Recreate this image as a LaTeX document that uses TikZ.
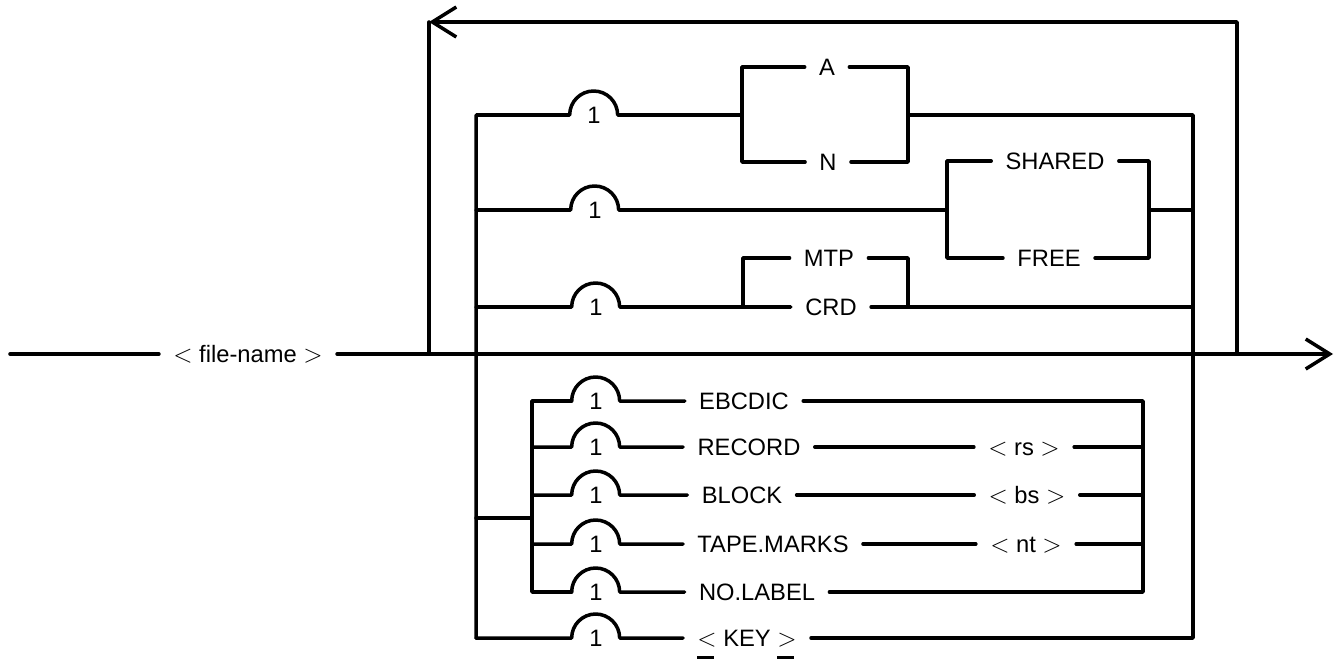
\documentclass[tikz,border=0pt]{standalone}
\usepackage{fontspec}
\setmainfont{Liberation Sans}
\usetikzlibrary{arrows.meta}

\newcommand{\barred}[1]{\rlap{\raisebox{-7pt}{\rule{0.7em}{1.4pt}}}#1}
\newcommand{\lt}{\(<\)}
\newcommand{\gt}{\(>\)}

\begin{document}
\begin{tikzpicture}[x=0.02cm, y=-0.02cm,
  rail/.style={line width=2pt, line cap=round, line join=round},
  arr/.style={-{Straight Barb[length=0.48cm, width=0.6cm]}},
  word/.style={font=\fontsize{13.5}{15}\selectfont, inner xsep=8pt, inner ysep=0pt, text height=9.6pt, text depth=0pt},
  once/.style={font=\fontsize{13.5}{15}\selectfont, inner sep=0pt, minimum width=0.96cm, text height=9.6pt, text depth=0pt}
]
\useasboundingbox (0,0) rectangle (1344,659);

% main line
\coordinate (start) at (10,354);
\coordinate (finish) at (1333,354);
\node[word] (fname) at (248,354) {\lt{} file-name \gt};
\draw[rail] (start) -- (fname);
\draw[rail, arr] (fname) -- (finish);

% repeat loop
\coordinate (loopL) at (429,354);
\coordinate (loopTop) at (429,22);
\coordinate (loopR) at (1237,354);
\draw[rail, arr] (loopR) |- (loopTop);
\draw[rail] (loopTop) -- (loopL);

% option box
\coordinate (boxTL) at (476,115);
\coordinate (boxBL) at (476,638);
\coordinate (boxTR) at (1193,115);
\coordinate (boxBR) at (1193,638);

% A / N
\node[once] (one1) at (594,115) {1};
\node[word] (optA) at (827,67) {A};
\node[word] (optN) at (828,162) {N};
\coordinate (an1) at (742,115);
\coordinate (an2) at (908,115);
\draw[rail] (boxBL) -- (boxTL) -- (one1.west) arc[start angle=180, end angle=0, radius=0.48cm] -- (an1);
\draw[rail] (optA.west) -| (optN.west -| an1) -- (optN.west);
\draw[rail] (optA.east) -| (optN.east -| an2) -- (optN.east);

% SHARED / FREE
\node[once] (one2) at (595,210) {1};
\node[word] (optShared) at (1055,161) {SHARED};
\node[word] (optFree) at (1049,258) {FREE};
\coordinate (sf1) at (947,210);
\coordinate (sf2) at (1149,210);
\draw[rail] (boxTL |- one2) -- (one2.west) arc[start angle=180, end angle=0, radius=0.48cm] -- (sf1);
\draw[rail] (optShared.west) -| (optFree.west -| sf1) -- (optFree.west);
\draw[rail] (optShared.east) -| (optFree.east -| sf2) -- (optFree.east);
\draw[rail] (sf2) -- (sf2 -| boxTR);

% MTP / CRD
\node[once] (one3) at (596,307) {1};
\node[word] (optMtp) at (829,258) {MTP};
\node[word] (optCrd) at (831,307) {CRD};
\coordinate (mc1) at (743,307);
\coordinate (mc2) at (908,307);
\draw[rail] (boxTL |- one3) -- (one3.west) arc[start angle=180, end angle=0, radius=0.48cm] -- (optCrd.west);
\draw[rail] (optMtp.west) -| (mc1);
\draw[rail] (optMtp.east) -| (mc2);
\draw[rail] (optCrd.east) -- (optCrd.east -| boxTR);

% tape options
\coordinate (subJ) at (532,518);
\coordinate (subR) at (1143,518);
\node[once] (one4) at (596,401) {1};
\node[once] (one5) at (596,447) {1};
\node[once] (one6) at (596,495) {1};
\node[once] (one7) at (596,544) {1};
\node[once] (one8) at (596,592) {1};
\node[word] (optEbcdic) at (744,401) {EBCDIC};
\node[word] (optRecord) at (749,447) {RECORD};
\node[word] (argRs) at (1024,447) {\lt{} rs \gt};
\node[word] (optBlock) at (742,495) {BLOCK};
\node[word] (argBs) at (1027,495) {\lt{} bs \gt};
\node[word] (optTape) at (773,544) {TAPE.MARKS};
\node[word] (argNt) at (1026,544) {\lt{} nt \gt};
\node[word] (optNolabel) at (757,592) {NO.LABEL};
\draw[rail] (boxTL |- subJ) -- (subJ);
\draw[rail] (one4.west) -- (subJ |- one4) -- (subJ |- one8) -- (one8.west);
\draw[rail] (one4.west) arc[start angle=180, end angle=0, radius=0.48cm] -- (optEbcdic.west);
\draw[rail] (subJ |- one5) -- (one5.west) arc[start angle=180, end angle=0, radius=0.48cm] -- (optRecord.west);
\draw[rail] (subJ |- one6) -- (one6.west) arc[start angle=180, end angle=0, radius=0.48cm] -- (optBlock.west);
\draw[rail] (subJ |- one7) -- (one7.west) arc[start angle=180, end angle=0, radius=0.48cm] -- (optTape.west);
\draw[rail] (one8.west) arc[start angle=180, end angle=0, radius=0.48cm] -- (optNolabel.west);
\draw[rail] (optRecord) -- (argRs);
\draw[rail] (optBlock) -- (argBs);
\draw[rail] (optTape) -- (argNt);
\draw[rail] (optEbcdic.east) -- (optEbcdic.east -| subR) -- (optNolabel.east -| subR) -- (optNolabel.east);
\draw[rail] (argRs.east) -- (argRs.east -| subR);
\draw[rail] (argBs.east) -- (argBs.east -| subR);
\draw[rail] (argNt.east) -- (argNt.east -| subR);

% key
\node[once] (one9) at (596,638) {1};
\node[word] (optKey) at (747,638) {\barred{\lt} KEY \barred{\gt}};
\draw[rail] (boxBL) -- (one9.west) arc[start angle=180, end angle=0, radius=0.48cm] -- (optKey.west);
\draw[rail] (an2) -- (boxTR) -- (boxBR) -- (optKey.east);

\end{tikzpicture}
\end{document}
